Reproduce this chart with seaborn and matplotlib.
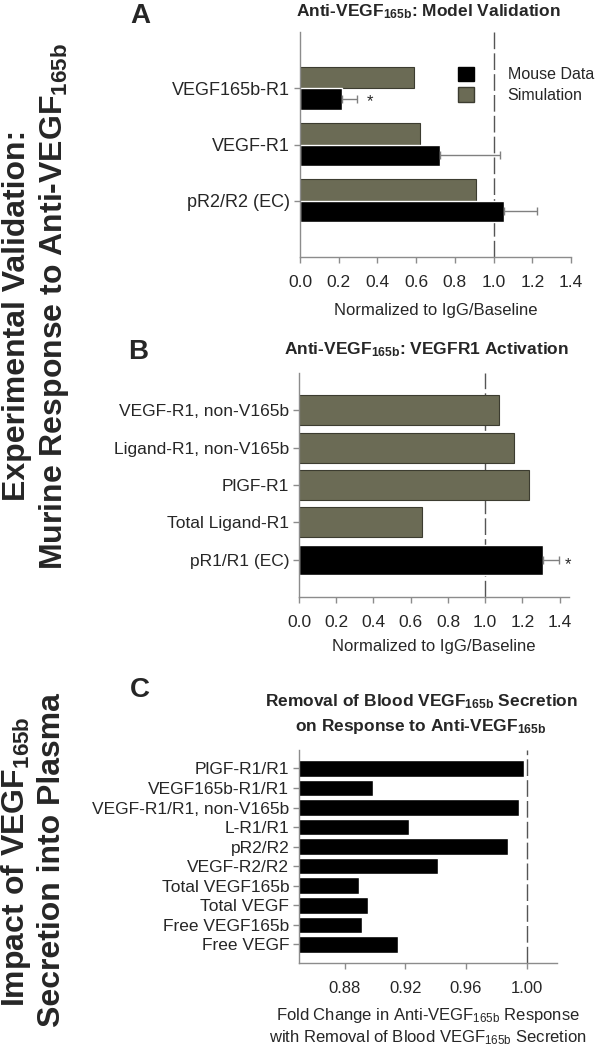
import matplotlib
matplotlib.use("Agg")
import matplotlib.pyplot as plt
from matplotlib.patches import Patch
import seaborn as sns
import pandas as pd

# ---------------- data ----------------
A_categories = ["VEGF165b-R1", "VEGF-R1", "pR2/R2 (EC)"]
A_simulation = [0.587, 0.618, 0.908]
A_mouse = [0.219, 0.722, 1.053]
A_mouse_err = [0.075, 0.310, 0.173]
A_significant = [True, False, False]

B_categories = ["VEGF-R1, non-V165b", "Ligand-R1, non-V165b", "PlGF-R1",
                "Total Ligand-R1", "pR1/R1 (EC)"]
B_values = [1.075, 1.156, 1.237, 0.661, 1.308]
B_series = ["Simulation", "Simulation", "Simulation", "Simulation", "Mouse Data"]
B_err = [0.0, 0.0, 0.0, 0.0, 0.086]
B_significant = [False, False, False, False, True]

C_categories = ["PlGF-R1/R1", "VEGF165b-R1/R1", "VEGF-R1/R1, non-V165b", "L-R1/R1",
                "pR2/R2", "VEGF-R2/R2", "Total VEGF165b", "Total VEGF",
                "Free VEGF165b", "Free VEGF"]
C_values = [0.9985, 0.899, 0.995, 0.9227, 0.988, 0.9414, 0.8896, 0.8953, 0.8915, 0.9155]

AB_ticks = [0.0, 0.2, 0.4, 0.6, 0.8, 1.0, 1.2, 1.4]
C_ticks = [0.88, 0.92, 0.96, 1.00]

# ---------------- style ----------------
sns.set_style("white")
plt.rcParams["font.family"] = ["Liberation Sans", "DejaVu Sans"]
plt.rcParams["mathtext.default"] = "regular"

GREY = "#6b6b55"
GREY_EDGE = "#3c3c30"
SPINE = "#8c8c8c"
palette = {"Simulation": GREY, "Mouse Data": "black"}

W, H = 601, 1050
fig = plt.figure(figsize=(W / 100, H / 100), dpi=100)


def add_ax(left, top, right, bottom):
    return fig.add_axes([left / W, 1 - bottom / H, (right - left) / W, (bottom - top) / H])


def style_ax(ax, ylab_size, xtick_size):
    for s in ["top", "right"]:
        ax.spines[s].set_visible(False)
    for s in ["left", "bottom"]:
        ax.spines[s].set_color(SPINE)
        ax.spines[s].set_linewidth(1.0)
    ax.tick_params(axis="y", which="major", direction="out", length=4, width=1,
                   color=SPINE, labelsize=ylab_size, pad=3, left=True)
    ax.tick_params(axis="x", which="major", direction="out", length=4, width=1,
                   color=SPINE, labelsize=xtick_size, pad=9, bottom=True)
    ax.set_ylabel("")


def dashed_one(ax, x=1.0):
    ax.axvline(x, color="#555555", lw=1.0, dashes=(12, 3), zorder=0.5)


# ---------------- panel A ----------------
axA = add_ax(300, 32, 571, 257)
dfA = pd.DataFrame({
    "category": A_categories * 2,
    "value": A_simulation + A_mouse,
    "series": ["Simulation"] * len(A_categories) + ["Mouse Data"] * len(A_categories),
})
sns.barplot(data=dfA, y="category", x="value", hue="series", orient="h",
            hue_order=["Simulation", "Mouse Data"], palette=palette,
            order=A_categories, width=0.76, gap=0, errorbar=None, ax=axA,
            legend=False, saturation=1)
for p in axA.containers[0]:
    p.set_edgecolor(GREY_EDGE)
    p.set_linewidth(0.8)
mouse_bars = list(axA.containers[1])
ys = [b.get_y() + b.get_height() / 2 for b in mouse_bars]
axA.errorbar(A_mouse, ys, xerr=[[0] * len(A_mouse), A_mouse_err], fmt="none",
             ecolor="#808080", elinewidth=1, capsize=3, capthick=1, zorder=3)
for v, e, y, sig in zip(A_mouse, A_mouse_err, ys, A_significant):
    if sig:
        axA.text(v + e + 0.07, y + 0.05, "*", ha="center", va="center", fontsize=12)
dashed_one(axA)
axA.set_xlim(0, 1.4)
axA.set_ylim(len(A_categories), -1)
axA.set_xticks(AB_ticks)
axA.set_xticklabels([f"{t:.1f}" for t in AB_ticks])
style_ax(axA, 13, 12.5)
axA.set_xlabel("Normalized to IgG/Baseline", fontsize=12)
axA.xaxis.set_label_coords(0.5, -0.236)
axA.xaxis.label.set_va("center")
axA.set_title(r"Anti-VEGF$_{165b}$: Model Validation", fontsize=12.5, fontweight="bold",
              x=0.472, y=1.089, va="center", pad=0)
handles = [Patch(facecolor="black", edgecolor="black"),
           Patch(facecolor=GREY, edgecolor=GREY_EDGE)]
axA.legend(handles, ["Mouse Data", "Simulation"], loc="upper left",
           bbox_to_anchor=(0.583, 0.845), frameon=False, fontsize=11.5,
           handlelength=1.0, handleheight=1.0, handletextpad=2.1,
           labelspacing=0.3, borderpad=0, borderaxespad=0)

# ---------------- panel B ----------------
axB = add_ax(299, 373, 569, 597)
dfB = pd.DataFrame({"category": B_categories, "value": B_values, "series": B_series})
sns.barplot(data=dfB, y="category", x="value", hue="series", orient="h",
            hue_order=["Simulation", "Mouse Data"], palette=palette,
            order=B_categories, width=0.8, dodge=False, errorbar=None, ax=axB,
            legend=False, saturation=1)
for p in axB.patches:
    if p.get_facecolor()[0] > 0.2:
        p.set_edgecolor(GREY_EDGE)
        p.set_linewidth(0.8)
B_ys = list(range(len(B_categories)))
for v, e, y, sig in zip(B_values, B_err, B_ys, B_significant):
    if e > 0:
        axB.errorbar([v], [y], xerr=[[0], [e]], fmt="none", ecolor="#808080",
                     elinewidth=1, capsize=3, capthick=1, zorder=3)
    if sig:
        axB.text(v + e + 0.052, y + 0.12, "*", ha="center", va="center", fontsize=12)
dashed_one(axB)
axB.set_xlim(0, 1.45)
axB.set_ylim(len(B_categories), -1)
axB.set_xticks(AB_ticks)
axB.set_xticklabels([f"{t:.1f}" for t in AB_ticks])
style_ax(axB, 12.5, 12.5)
axB.set_xlabel("Normalized to IgG/Baseline", fontsize=12)
axB.xaxis.set_label_coords(0.5, -0.223)
axB.xaxis.label.set_va("center")
axB.set_title(r"Anti-VEGF$_{165b}$: VEGFR1 Activation", fontsize=12.5, fontweight="bold",
              x=0.474, y=1.103, va="center", pad=0)

# ---------------- panel C ----------------
axC = add_ax(299, 750, 557, 963)
dfC = pd.DataFrame({"category": C_categories, "value": C_values})
sns.barplot(data=dfC, y="category", x="value", orient="h", color="black",
            order=C_categories, width=0.85, errorbar=None, ax=axC, saturation=1)
dashed_one(axC)
axC.set_xlim(0.85, 1.02)
axC.set_ylim(len(C_categories) - 0.05, -0.94)
axC.set_xticks(C_ticks)
axC.set_xticklabels([f"{t:.2f}" for t in C_ticks])
style_ax(axC, 12.5, 12)
axC.set_xlabel("Fold Change in Anti-VEGF$_{165b}$ Response\n"
               "with Removal of Blood VEGF$_{165b}$ Secretion", fontsize=12,
               linespacing=1.3)
axC.xaxis.set_label_coords(0.5, -0.298)
axC.xaxis.label.set_va("center")
axC.set_title("Removal of Blood VEGF$_{165b}$ Secretion\n"
              "on Response to Anti-VEGF$_{165b}$", fontsize=12.5, fontweight="bold",
              x=0.473, y=1.167, va="center", linespacing=1.4, pad=0)

# ---------------- panel letters & side texts ----------------
for lab, (x, y) in {"A": (140, 16), "B": (138, 352), "C": (140, 690)}.items():
    fig.text(x / W, 1 - y / H, lab, fontsize=20, fontweight="bold",
             ha="center", va="center")

side = dict(fontsize=23, fontweight="bold", rotation=90, ha="center", va="center")
fig.text(17 / W, 1 - 315 / H, "Experimental Validation:", **side)
fig.text(54 / W, 1 - 306 / H, r"Murine Response to Anti-VEGF$_{165b}$", **side)
fig.text(16 / W, 1 - 862 / H, r"Impact of VEGF$_{165b}$", **side)
fig.text(52 / W, 1 - 860 / H, "Secretion into Plasma", **side)

fig.savefig("out.png", dpi=100)
